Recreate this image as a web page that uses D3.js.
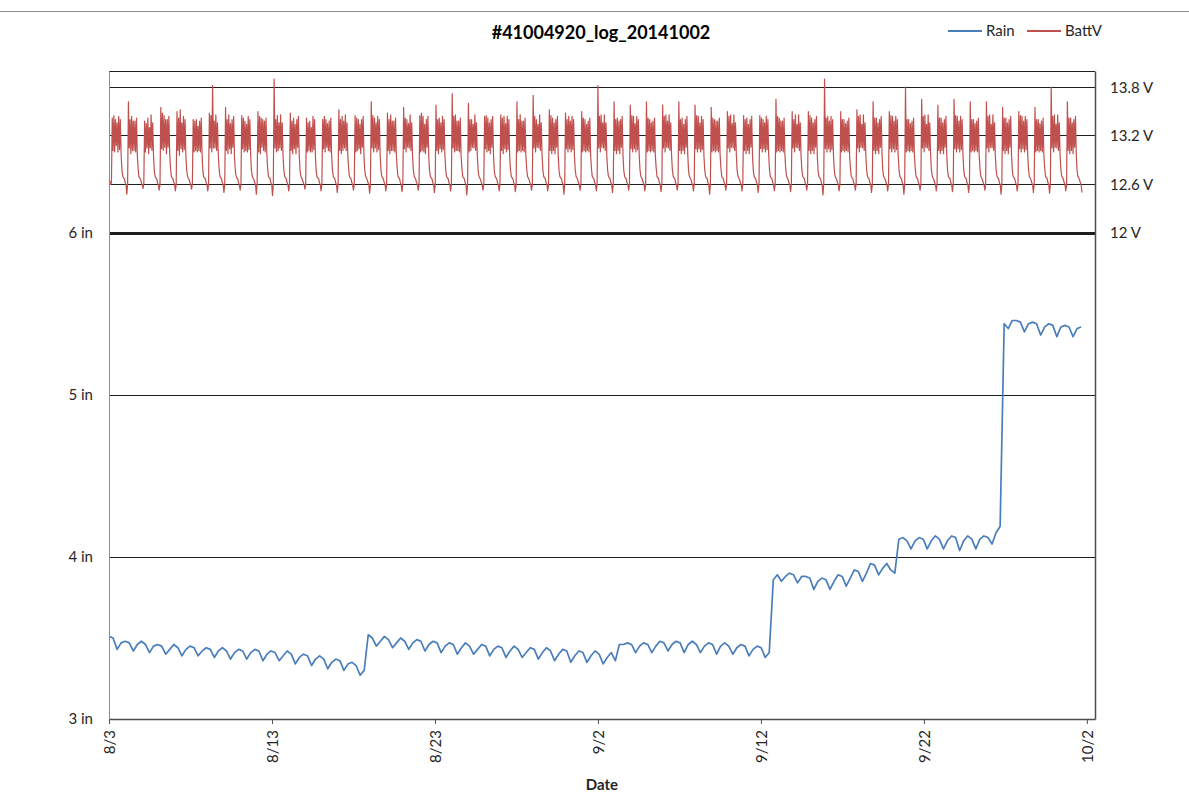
<!DOCTYPE html>
<html>
<head>
<meta charset="utf-8">
<script src="https://cdn.jsdelivr.net/npm/d3@7"></script>
<style>
  body { margin: 0; background: #fff; }
  text { font-family: Lato, "Open Sans", sans-serif; }
</style>
</head>
<body>
<div id="chart"></div>
<script>
const width = 1189;
const height = 794;

// logger readings, evenly spaced from 8/3 00:00
const startTime = new Date(2014, 7, 3);
const rainStepHours = 5.965;
const battStepHours = 1.192;

// Rain (in), 4 readings per cycle
const rainValues = [
  3.51,3.50,3.43,3.47, 3.48,3.47,3.42,3.46, 3.48,3.46,3.41,3.45, 3.46,3.45,3.40,3.43,
  3.46,3.44,3.39,3.43, 3.45,3.44,3.39,3.42, 3.44,3.43,3.38,3.42, 3.44,3.42,3.37,3.41,
  3.43,3.42,3.37,3.41, 3.43,3.42,3.36,3.40, 3.42,3.41,3.36,3.39, 3.42,3.40,3.34,3.38,
  3.40,3.39,3.33,3.37, 3.39,3.37,3.31,3.35, 3.37,3.36,3.30,3.34, 3.35,3.33,3.27,3.30,
  3.52,3.50,3.45,3.48, 3.51,3.49,3.44,3.47, 3.50,3.48,3.43,3.47, 3.49,3.48,3.42,3.46,
  3.48,3.47,3.41,3.45, 3.47,3.46,3.40,3.44, 3.47,3.45,3.40,3.43, 3.46,3.45,3.39,3.43,
  3.45,3.44,3.38,3.42, 3.45,3.43,3.38,3.41, 3.44,3.43,3.37,3.41, 3.44,3.42,3.36,3.40,
  3.43,3.42,3.35,3.39, 3.42,3.41,3.35,3.39, 3.42,3.40,3.34,3.38, 3.41,3.36,3.46,3.46,
  3.47,3.46,3.41,3.45, 3.47,3.46,3.41,3.45, 3.48,3.47,3.42,3.46, 3.48,3.47,3.41,3.46,
  3.48,3.46,3.41,3.45, 3.47,3.46,3.40,3.45, 3.47,3.45,3.40,3.44, 3.46,3.45,3.39,3.43,
  3.45,3.44,3.38,3.41, 3.86,3.89,3.85,3.88, 3.90,3.89,3.84,3.88, 3.88,3.87,3.80,3.85,
  3.87,3.86,3.80,3.85, 3.89,3.88,3.82,3.87, 3.92,3.91,3.85,3.90, 3.96,3.95,3.89,3.93,
  3.96,3.92,3.90,4.11, 4.12,4.10,4.05,4.10, 4.12,4.11,4.05,4.10, 4.13,4.11,4.05,4.10,
  4.13,4.12,4.04,4.10, 4.13,4.11,4.05,4.11, 4.13,4.12,4.08,4.15, 4.19,5.44,5.41,5.46,
  5.46,5.45,5.39,5.44, 5.45,5.44,5.37,5.42, 5.44,5.43,5.36,5.42, 5.43,5.42,5.36,5.41,
  5.42
];

// BattV (V), 20 readings per cycle
const battValues = [
  12.66,12.64,12.60,12.62,13.42,13.02,13.45,13.00,13.40,13.08,13.36,13.00,13.44,13.03,13.40,12.96,12.78,12.70,12.68,12.67,
  12.62,12.60,12.48,12.60,13.62,13.05,13.40,12.98,13.44,13.02,13.38,13.02,13.38,13.00,13.42,12.95,12.80,12.69,12.68,12.66,
  12.62,12.60,12.55,12.61,13.38,13.00,13.35,13.05,13.42,12.98,13.30,13.05,13.46,13.02,13.36,12.96,12.76,12.70,12.68,12.67,
  12.62,12.60,12.53,12.60,13.55,13.04,13.48,13.02,13.45,13.06,13.40,12.98,13.40,13.06,13.44,12.98,12.80,12.70,12.68,12.67,
  12.63,12.60,12.52,12.60,13.50,13.02,13.42,12.96,13.52,13.04,13.36,13.00,13.44,13.03,13.40,12.94,12.78,12.70,12.68,12.66,
  12.62,12.60,12.54,12.61,13.40,13.00,13.38,13.02,13.40,13.00,13.32,13.02,13.38,13.00,13.42,12.96,12.76,12.69,12.68,12.67,
  12.62,12.60,12.52,12.60,13.48,13.05,13.45,13.00,13.82,13.05,13.38,13.05,13.46,13.02,13.36,12.97,12.80,12.70,12.68,12.67,
  12.62,12.60,12.50,12.60,13.55,13.02,13.40,12.98,13.46,13.04,13.35,12.98,13.40,13.06,13.44,12.95,12.78,12.70,12.68,12.67,
  12.62,12.60,12.53,12.60,13.45,13.04,13.42,13.00,13.38,13.02,13.34,13.00,13.44,13.03,13.40,12.96,12.77,12.70,12.68,12.66,
  12.62,12.60,12.48,12.60,13.50,13.00,13.44,12.98,13.42,13.06,13.40,13.02,13.38,13.00,13.42,12.97,12.80,12.70,12.68,12.67,
  12.62,12.60,12.46,12.60,13.90,13.05,13.40,13.00,13.45,13.02,13.36,13.05,13.46,13.02,13.36,12.95,12.78,12.70,12.68,12.67,
  12.62,12.60,12.52,12.60,13.48,13.02,13.38,12.98,13.42,13.04,13.34,12.98,13.40,13.06,13.44,12.96,12.78,12.70,12.68,12.66,
  12.62,12.60,12.54,12.61,13.42,13.00,13.36,13.02,13.38,13.00,13.30,13.00,13.44,13.03,13.40,12.95,12.76,12.69,12.68,12.67,
  12.62,12.60,12.52,12.60,13.40,13.04,13.44,13.00,13.40,13.06,13.35,13.02,13.38,13.00,13.42,12.97,12.78,12.70,12.68,12.67,
  12.62,12.60,12.50,12.60,13.52,13.02,13.40,12.98,13.44,13.02,13.38,13.05,13.46,13.02,13.36,12.96,12.80,12.70,12.68,12.67,
  12.62,12.60,12.53,12.60,13.45,13.00,13.42,13.02,13.40,13.04,13.34,12.98,13.40,13.06,13.44,12.95,12.77,12.70,12.68,12.66,
  12.62,12.60,12.49,12.60,13.62,13.05,13.45,13.00,13.42,13.05,13.36,13.00,13.44,13.03,13.40,12.96,12.78,12.70,12.68,12.67,
  12.62,12.60,12.52,12.60,13.48,13.02,13.40,12.98,13.46,13.02,13.38,13.02,13.38,13.00,13.42,12.97,12.80,12.70,12.68,12.67,
  12.62,12.60,12.51,12.60,13.55,13.04,13.42,13.00,13.40,13.06,13.35,13.05,13.46,13.02,13.36,12.95,12.78,12.70,12.68,12.66,
  12.62,12.60,12.53,12.60,13.45,13.00,13.48,13.02,13.44,13.00,13.34,12.98,13.40,13.06,13.44,12.96,12.77,12.70,12.68,12.67,
  12.62,12.60,12.50,12.60,13.58,13.02,13.40,12.98,13.42,13.04,13.36,13.00,13.44,13.03,13.40,12.96,12.78,12.70,12.68,12.67,
  12.62,12.60,12.52,12.60,13.72,13.05,13.44,13.00,13.46,13.02,13.38,13.02,13.38,13.00,13.42,12.95,12.80,12.70,12.68,12.67,
  12.62,12.60,12.47,12.60,13.60,13.00,13.40,13.02,13.40,13.06,13.34,13.05,13.46,13.02,13.36,12.96,12.78,12.70,12.68,12.66,
  12.62,12.60,12.53,12.60,13.44,13.04,13.45,13.00,13.42,13.02,13.36,12.98,13.40,13.06,13.44,12.97,12.77,12.70,12.68,12.67,
  12.62,12.60,12.52,12.60,13.46,13.02,13.42,12.98,13.44,13.04,13.35,13.00,13.44,13.03,13.40,12.95,12.78,12.70,12.68,12.67,
  12.62,12.60,12.51,12.60,13.62,13.00,13.40,13.02,13.46,13.00,13.38,13.02,13.38,13.00,13.42,12.96,12.80,12.70,12.68,12.66,
  12.62,12.60,12.53,12.60,13.70,13.05,13.44,13.00,13.40,13.06,13.34,13.05,13.46,13.02,13.36,12.97,12.78,12.70,12.68,12.67,
  12.62,12.60,12.52,12.60,13.52,13.02,13.45,12.98,13.42,13.02,13.36,12.98,13.40,13.06,13.44,12.95,12.77,12.70,12.68,12.67,
  12.62,12.60,12.48,12.60,13.48,13.04,13.40,13.00,13.44,13.04,13.38,13.00,13.44,13.03,13.40,12.96,12.78,12.70,12.68,12.66,
  12.62,12.60,12.53,12.60,13.50,13.00,13.42,13.02,13.40,13.00,13.34,13.02,13.38,13.00,13.42,12.97,12.80,12.70,12.68,12.67,
  12.62,12.60,12.52,12.60,13.82,13.05,13.44,13.00,13.46,13.06,13.36,13.05,13.46,13.02,13.36,12.95,12.78,12.70,12.68,12.67,
  12.62,12.60,12.50,12.60,13.62,13.02,13.40,12.98,13.42,13.02,13.38,12.98,13.40,13.06,13.44,12.96,12.77,12.70,12.68,12.67,
  12.62,12.60,12.53,12.60,13.58,13.04,13.45,13.00,13.44,13.04,13.35,13.00,13.44,13.03,13.40,12.97,12.78,12.70,12.68,12.66,
  12.62,12.60,12.52,12.60,13.62,13.00,13.42,13.02,13.40,13.00,13.36,13.02,13.38,13.00,13.42,12.95,12.80,12.70,12.68,12.67,
  12.62,12.60,12.51,12.60,13.58,13.05,13.44,13.00,13.46,13.06,13.38,13.05,13.46,13.02,13.36,12.96,12.78,12.70,12.68,12.67,
  12.62,12.60,12.53,12.60,13.62,13.02,13.40,12.98,13.42,13.02,13.34,12.98,13.40,13.06,13.44,12.97,12.77,12.70,12.68,12.66,
  12.62,12.60,12.52,12.60,13.58,13.04,13.45,13.00,13.44,13.04,13.36,13.00,13.44,13.03,13.40,12.95,12.78,12.70,12.68,12.67,
  12.62,12.60,12.48,12.60,13.55,13.00,13.42,13.02,13.40,13.00,13.38,13.02,13.38,13.00,13.42,12.96,12.80,12.70,12.68,12.67,
  12.62,12.60,12.53,12.60,13.50,13.05,13.44,13.00,13.46,13.06,13.35,13.05,13.46,13.02,13.36,12.97,12.78,12.70,12.68,12.66,
  12.62,12.60,12.52,12.60,13.45,13.02,13.40,12.98,13.42,13.02,13.34,12.98,13.40,13.06,13.44,12.95,12.77,12.70,12.68,12.67,
  12.62,12.60,12.50,12.60,13.45,13.04,13.42,13.00,13.40,13.04,13.36,13.00,13.44,13.03,13.40,12.96,12.78,12.70,12.68,12.67,
  12.62,12.60,12.52,12.60,13.65,13.00,13.44,13.02,13.42,13.00,13.38,13.02,13.38,13.00,13.42,12.97,12.80,12.70,12.68,12.66,
  12.62,12.60,12.51,12.60,13.50,13.05,13.40,13.00,13.46,13.06,13.34,13.05,13.46,13.02,13.36,12.95,12.78,12.70,12.68,12.67,
  12.62,12.60,12.53,12.60,13.50,13.02,13.45,12.98,13.42,13.02,13.36,12.98,13.40,13.06,13.44,12.96,12.77,12.70,12.68,12.67,
  12.62,12.60,12.47,12.60,13.90,13.04,13.42,13.00,13.44,13.04,13.38,13.00,13.44,13.03,13.40,12.97,12.78,12.70,12.68,12.66,
  12.62,12.60,12.52,12.60,13.50,13.00,13.40,13.02,13.40,13.00,13.35,13.02,13.38,13.00,13.42,12.95,12.80,12.70,12.68,12.67,
  12.62,12.60,12.53,12.60,13.52,13.05,13.44,13.00,13.46,13.06,13.34,13.05,13.46,13.02,13.36,12.96,12.78,12.70,12.68,12.67,
  12.62,12.60,12.50,12.60,13.62,13.02,13.42,12.98,13.42,13.02,13.36,12.98,13.40,13.06,13.44,12.97,12.77,12.70,12.68,12.66,
  12.62,12.60,12.52,12.60,13.50,13.04,13.45,13.00,13.44,13.04,13.38,13.00,13.44,13.03,13.40,12.95,12.78,12.70,12.68,12.67,
  12.62,12.60,12.48,12.60,13.80,13.00,13.40,13.02,13.40,13.00,13.35,13.02,13.38,13.00,13.42,12.96,12.80,12.70,12.68,12.67,
  12.62,12.60,12.53,12.60,13.65,13.05,13.44,13.00,13.46,13.06,13.34,13.05,13.46,13.02,13.36,12.97,12.78,12.70,12.68,12.66,
  12.62,12.60,12.52,12.60,13.58,13.02,13.42,12.98,13.42,13.02,13.36,12.98,13.40,13.06,13.44,12.95,12.77,12.70,12.68,12.67,
  12.62,12.60,12.51,12.60,13.65,13.04,13.45,13.00,13.44,13.04,13.38,13.00,13.44,13.03,13.40,12.96,12.78,12.70,12.68,12.67,
  12.62,12.60,12.50,12.60,13.62,13.00,13.40,13.02,13.40,13.00,13.35,13.02,13.38,13.00,13.42,12.97,12.80,12.70,12.68,12.66,
  12.62,12.60,12.53,12.60,13.62,13.05,13.44,13.00,13.46,13.06,13.34,13.05,13.46,13.02,13.36,12.95,12.78,12.70,12.68,12.67,
  12.62,12.60,12.48,12.60,13.55,13.02,13.42,12.98,13.42,13.02,13.36,12.98,13.40,13.06,13.44,12.96,12.77,12.70,12.68,12.67,
  12.62,12.60,12.52,12.60,13.50,13.04,13.45,13.00,13.44,13.04,13.38,13.00,13.44,13.03,13.40,12.97,12.78,12.70,12.68,12.66,
  12.62,12.60,12.50,12.60,13.55,13.00,13.40,13.02,13.40,13.00,13.35,13.02,13.38,13.00,13.42,12.95,12.80,12.70,12.68,12.67,
  12.62,12.60,12.49,12.60,13.80,13.05,13.44,13.00,13.46,13.06,13.34,13.05,13.46,13.02,13.36,12.96,12.78,12.70,12.68,12.67,
  12.62,12.60,12.52,12.60,13.62,13.02,13.42,12.98,13.42,13.02,13.36,12.98,13.40,13.06,13.44,12.97,12.77,12.70,12.68,12.66,
  12.62,12.60,12.50
];

const xTickLabels = ["2014-08-03", "2014-08-13", "2014-08-23", "2014-09-02", "2014-09-12", "2014-09-22", "2014-10-02"];
const rainTickValues = [3, 4, 5, 6];
const rainGridValues = [4, 5, 6, 7];
const battTickValues = [12, 12.6, 13.2, 13.8];
const battGridValues = [12.6, 13.2, 13.8, 14];

const parseDay = d3.timeParse("%Y-%m-%d");
const timeAt = (i, step) => new Date(startTime.getTime() + i * step * 3600e3);

const rain = rainValues.map((v, i) => ({ t: timeAt(i, rainStepHours), v }));
const batt = battValues.map((v, i) => ({ t: timeAt(i, battStepHours), v }));

const svg = d3.select("#chart")
  .append("svg")
  .attr("width", width)
  .attr("height", height);

svg.append("rect").attr("width", width).attr("height", height).attr("fill", "#fff");

// chart border (only top edge visible in frame)
svg.append("line")
  .attr("x1", 0).attr("x2", width)
  .attr("y1", 11.5).attr("y2", 11.5)
  .attr("stroke", "#8c8c8c");

const plotLeft = 109, plotRight = 1095, plotTop = 71, plotBottom = 719;

const x = d3.scaleTime()
  .domain([new Date(2014, 7, 3), new Date(2014, 9, 2, 12)])
  .range([plotLeft, plotRight]);

const yRain = d3.scaleLinear().domain([3, 7]).range([plotBottom, plotTop]);
const yBatt = d3.scaleLinear().domain([6, 14]).range([plotBottom, plotTop]);

// gridlines
const grid = svg.append("g").attr("shape-rendering", "crispEdges");
grid.selectAll(".grain")
  .data(rainGridValues)
  .enter().append("line")
  .attr("x1", plotLeft).attr("x2", plotRight)
  .attr("y1", d => yRain(d)).attr("y2", d => yRain(d))
  .attr("stroke", "#1e1e1e")
  .attr("stroke-width", d => d === 6 ? 3 : 1);

grid.selectAll(".gbatt")
  .data(battGridValues)
  .enter().append("line")
  .attr("x1", plotLeft).attr("x2", plotRight)
  .attr("y1", d => yBatt(d)).attr("y2", d => yBatt(d))
  .attr("stroke", "#1e1e1e");

// series
const rainLine = d3.line().x(d => x(d.t)).y(d => yRain(d.v));
const battLine = d3.line().x(d => x(d.t)).y(d => yBatt(d.v));

svg.append("path")
  .datum(batt)
  .attr("d", battLine)
  .attr("fill", "none")
  .attr("stroke", "#c0504d")
  .attr("stroke-width", 1.2)
  .attr("stroke-linejoin", "round");

svg.append("path")
  .datum(rain)
  .attr("d", rainLine)
  .attr("fill", "none")
  .attr("stroke", "#4a7ebb")
  .attr("stroke-width", 1.7)
  .attr("stroke-linejoin", "round");

// axes
const xAxis = svg.append("g")
  .attr("transform", `translate(0,${plotBottom})`)
  .call(d3.axisBottom(x)
    .tickValues(xTickLabels.map(parseDay))
    .tickFormat(d3.timeFormat("%-m/%-d"))
    .tickSize(5)
    .tickSizeOuter(0));
xAxis.select(".domain").attr("stroke", "#4d4d4d").attr("stroke-width", 1.5);
xAxis.selectAll(".tick line").attr("stroke", "#4d4d4d");
xAxis.selectAll(".tick text")
  .attr("transform", "rotate(-90)")
  .attr("text-anchor", "end")
  .attr("x", -11)
  .attr("y", 0)
  .attr("dy", "0.35em")
  .attr("font-size", 15)
  .attr("font-family", "Lato")
  .attr("fill", "#262626");

const yLeft = svg.append("g")
  .attr("transform", `translate(${plotLeft},0)`)
  .call(d3.axisLeft(yRain)
    .tickValues(rainTickValues)
    .tickFormat(d => d + " in")
    .tickSize(0)
    .tickPadding(16));
yLeft.select(".domain").attr("stroke", "#8c8c8c");
yLeft.selectAll("text").attr("font-size", 15).attr("font-family", "Lato").attr("fill", "#262626");

const yRight = svg.append("g")
  .attr("transform", `translate(${plotRight},0)`)
  .call(d3.axisRight(yBatt)
    .tickValues(battTickValues)
    .tickFormat(d => d + " V")
    .tickSize(0)
    .tickPadding(15));
yRight.select(".domain").attr("stroke", "#4d4d4d").attr("stroke-width", 1.5);
yRight.selectAll("text").attr("font-size", 15).attr("font-family", "Lato").attr("fill", "#262626");

// title
svg.append("text")
  .attr("x", 601).attr("y", 39)
  .attr("text-anchor", "middle")
  .attr("font-size", 18)
  .attr("font-weight", "bold")
  .text("#41004920_log_20141002");

svg.append("text")
  .attr("x", 602).attr("y", 790)
  .attr("text-anchor", "middle")
  .attr("font-size", 15)
  .attr("font-weight", "bold")
  .attr("fill", "#262626")
  .text("Date");

// legend
const legendItems = [
  { name: "Rain", color: "#4a7ebb", x: 948 },
  { name: "BattV", color: "#c0504d", x: 1027 }
];
const legend = svg.append("g");
legendItems.forEach(item => {
  legend.append("line")
    .attr("x1", item.x).attr("x2", item.x + 34)
    .attr("y1", 31).attr("y2", 31)
    .attr("stroke", item.color)
    .attr("stroke-width", 1.8);
  legend.append("text")
    .attr("x", item.x + 38).attr("y", 36)
    .attr("font-size", 15)
    .attr("fill", "#262626")
    .text(item.name);
});
</script>
</body>
</html>
